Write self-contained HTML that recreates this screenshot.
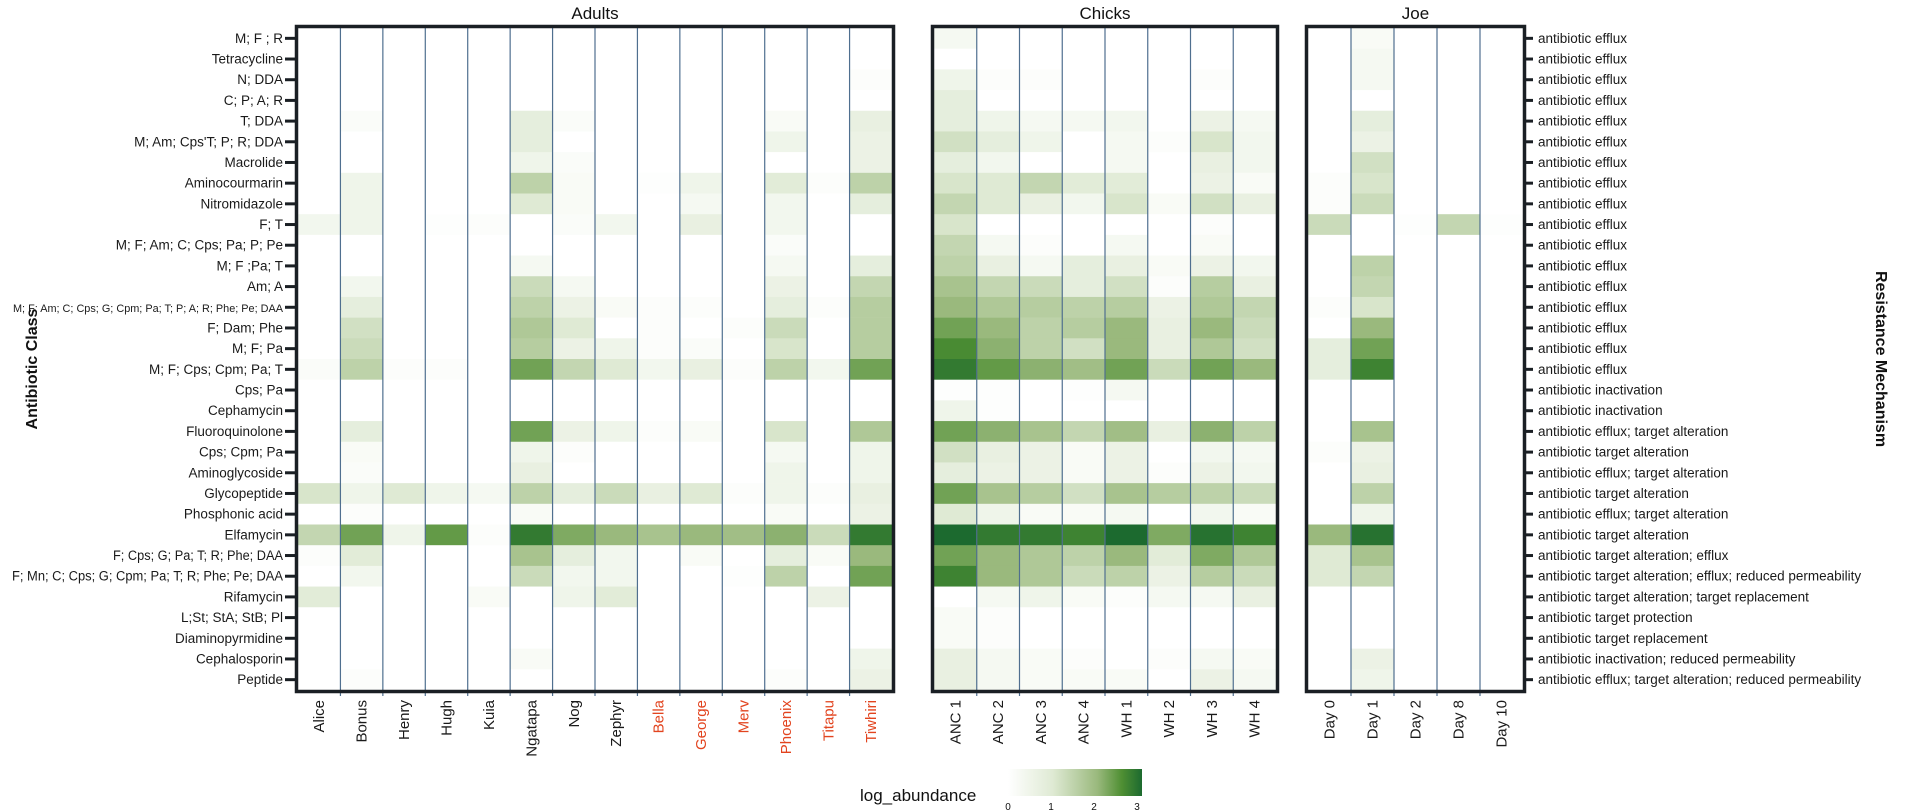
<!DOCTYPE html>
<html><head><meta charset="utf-8"><style>
html,body{margin:0;padding:0;background:#fff;width:1908px;height:812px;overflow:hidden}
svg{display:block;font-family:"Liberation Sans",Arial,sans-serif}
</style></head><body>
<svg id="chart" width="1908" height="812" viewBox="0 0 1908 812" xmlns="http://www.w3.org/2000/svg">
<defs><linearGradient id="lg" x1="0" x2="1" y1="0" y2="0">
<stop offset="0" stop-color="#ffffff"/><stop offset="0.333" stop-color="#dfead4"/><stop offset="0.667" stop-color="#9ab97d"/><stop offset="0.85" stop-color="#4f8f33"/><stop offset="1" stop-color="#1c6a2f"/></linearGradient></defs>
<g id="cells"></g><g id="lines"></g><g id="frames"></g><g id="labels"></g>
<text x="0" y="0" transform="translate(37,369) rotate(-90)" text-anchor="middle" font-size="16" font-weight="bold" fill="#111">Antibiotic Class</text>
<text x="0" y="0" transform="translate(1876,359) rotate(90)" text-anchor="middle" font-size="16" font-weight="bold" fill="#111">Resistance Mechanism</text>
<g>
<text x="860" y="801" font-size="17" fill="#111">log_abundance</text>
<rect x="1008" y="769" width="134" height="27" fill="url(#lg)"/>
<g font-size="10" fill="#111" text-anchor="middle">
<text x="1008" y="810">0</text>
<text x="1051" y="810">1</text>
<text x="1094" y="810">2</text>
<text x="1137" y="810">3</text>
</g></g>
</svg>
<script>
const rowLabels=["M; F ; R","Tetracycline","N; DDA","C; P; A; R","T; DDA","M; Am; Cps'T; P; R; DDA","Macrolide","Aminocourmarin","Nitromidazole","F; T","M; F; Am; C; Cps; Pa; P; Pe","M; F ;Pa; T","Am; A","M; F; Am; C; Cps; G; Cpm; Pa; T; P; A; R; Phe; Pe; DAA","F; Dam; Phe","M; F; Pa","M; F; Cps; Cpm; Pa; T","Cps; Pa","Cephamycin","Fluoroquinolone","Cps; Cpm; Pa","Aminoglycoside","Glycopeptide","Phosphonic acid","Elfamycin","F; Cps; G; Pa; T; R; Phe; DAA","F; Mn; C; Cps; G; Cpm; Pa; T; R; Phe; Pe; DAA","Rifamycin","L;St; StA; StB; Pl","Diaminopyrmidine","Cephalosporin","Peptide"];
const mechLabels=["antibiotic efflux","antibiotic efflux","antibiotic efflux","antibiotic efflux","antibiotic efflux","antibiotic efflux","antibiotic efflux","antibiotic efflux","antibiotic efflux","antibiotic efflux","antibiotic efflux","antibiotic efflux","antibiotic efflux","antibiotic efflux","antibiotic efflux","antibiotic efflux","antibiotic efflux","antibiotic inactivation","antibiotic inactivation","antibiotic efflux; target alteration","antibiotic target alteration","antibiotic efflux; target alteration","antibiotic target alteration","antibiotic efflux; target alteration","antibiotic target alteration","antibiotic target alteration; efflux","antibiotic target alteration; efflux; reduced permeability","antibiotic target alteration; target replacement","antibiotic target protection","antibiotic target replacement","antibiotic inactivation; reduced permeability","antibiotic efflux; target alteration; reduced permeability"];
const adultNames=["Alice","Bonus","Henry","Hugh","Kuia","Ngatapa","Nog","Zephyr","Bella","George","Merv","Phoenix","Titapu","Tiwhiri"];
const adultRed=[false,false,false,false,false,false,false,false,true,true,true,true,true,true];
const chickNames=["ANC 1","ANC 2","ANC 3","ANC 4","WH 1","WH 2","WH 3","WH 4"];
const joeNames=["Day 0","Day 1","Day 2","Day 8","Day 10"];
const adultValues=[
[0,0,0,0,0,0,0,0,0,.4,0,0,0,0,0,0,.15,0,0,0,0,0,1.1,0,1.4,.1,0,.9,0,0,0,0],
[0,0,0,0,.15,0,0,.5,.5,.5,0,0,.4,.8,1.2,1.3,1.5,0,0,.8,.2,.15,.5,.1,2.3,.9,.4,0,0,0,0,.1],
[0,0,0,0,0,0,0,0,0,0,0,0,0,0,0,0,.1,0,0,0,0,0,1.0,0,.5,0,0,0,0,0,0,0],
[0,0,0,0,0,0,0,0,0,.05,0,0,0,0,0,0,.1,0,0,0,0,0,.5,0,2.4,0,0,0,0,0,0,0],
[0,0,0,0,0,0,0,0,0,.1,0,0,0,0,0,0,0,0,0,0,0,0,.3,0,.1,0,0,.2,0,0,0,0],
[0,0,0,0,.8,.8,.5,1.5,1.0,0,0,.3,1.3,1.5,1.7,1.6,2.3,0,0,2.3,.5,.7,1.5,.2,2.8,1.8,1.3,0,0,0,.2,0],
[0,0,0,0,.15,0,.15,.2,.2,.15,0,0,.3,.6,1.0,.6,1.4,0,0,.6,.1,0,.8,0,2.2,.8,.4,.5,0,0,0,0],
[0,0,0,0,0,0,0,0,0,.4,0,0,0,.2,0,.5,1.0,0,0,.5,0,0,1.3,0,2.0,.4,.4,.9,0,0,0,0],
[0,0,0,0,0,0,0,.05,0,0,0,0,0,.1,.1,.1,.4,0,0,.1,0,0,.7,0,1.8,0,0,0,0,0,0,0],
[0,0,0,0,0,0,0,.5,.3,.7,0,0,0,.1,0,.15,.7,0,0,.2,0,0,1.0,0,2.0,.2,0,0,0,0,0,0],
[0,0,0,0,0,0,0,0,0,0,0,0,0,0,.1,0,.1,0,0,0,0,0,.1,0,1.9,0,.05,0,0,0,0,0],
[0,0,0,0,.2,.5,0,.9,.4,.4,.15,.3,.6,.8,1.3,1.1,1.5,0,0,1.1,.3,.5,.5,.2,2.1,.8,1.5,0,0,0,0,.1],
[0,0,0,0,0,0,0,.1,0,0,0,0,0,.1,0,0,.4,0,0,0,0,0,.1,0,1.3,.2,0,.6,0,0,0,0],
[0,0,.1,0,.7,.6,.6,1.5,.8,0,0,.8,1.4,1.6,1.6,1.6,2.3,0,0,1.7,.5,.5,.7,.6,2.8,2.0,2.3,0,0,0,.5,.6]];
const chickValues=[
[.3,0,.5,.8,.8,1.2,.8,1.1,1.4,1.1,1.4,1.5,1.8,2.0,2.3,2.6,2.8,.05,.5,2.3,1.2,.8,2.3,1.0,3.0,2.3,2.7,0,.2,.2,.7,.7],
[0,0,.1,0,.5,.8,.4,1.0,1.0,0,.3,.7,1.4,1.7,2.0,2.1,2.4,.05,.05,2.1,.7,.6,1.8,.5,2.8,2.0,2.0,.3,.1,.1,.3,.3],
[0,0,.1,0,.3,.5,0,1.4,.7,0,.1,.3,1.3,1.6,1.5,1.5,2.1,0,0,1.8,.6,.6,1.6,.2,2.8,1.7,1.7,.5,0,0,.2,.2],
[0,0,0,0,.3,0,0,.9,.4,0,0,.8,.8,1.5,1.6,1.2,1.9,.05,0,1.4,.2,.2,1.2,.2,2.7,1.5,1.3,.2,0,0,.1,.2],
[0,0,0,0,.4,.3,.3,.9,1.1,0,.3,.7,1.2,1.6,2.0,2.0,2.3,.3,0,1.9,.6,.6,1.8,.3,3.0,2.0,1.5,.1,0,0,0,.2],
[0,0,0,0,0,.1,0,0,.2,0,0,.2,.1,.6,.7,.7,1.3,0,0,.7,0,.1,1.6,0,2.2,.9,.6,.3,0,0,.1,0],
[0,0,.1,0,.6,1.1,.7,.6,1.2,.1,.2,.6,1.6,1.7,2.0,1.7,2.3,0,0,2.1,.4,.6,1.5,.4,2.9,2.2,1.6,.3,0,0,.3,.6],
[0,0,0,0,.3,.4,.4,.2,.7,0,0,.4,.7,1.4,1.3,1.2,2.0,0,0,1.5,.3,.4,1.3,.2,2.7,1.7,1.3,.7,0,0,.2,.3]];
const joeValues=[
[0,0,0,0,0,0,0,.1,.1,1.3,0,0,0,.1,0,.8,.8,0,0,0,.1,0,0,0,2.0,1.0,1.0,0,0,0,0,0],
[.2,.3,.3,0,.8,.6,1.2,1.1,1.3,0,0,1.5,1.4,1.1,2.0,2.3,2.7,0,0,1.8,.6,.7,1.5,.5,2.9,1.8,1.4,0,0,0,.6,.5],
[0,0,0,0,0,0,0,0,0,.05,0,0,0,0,0,0,0,0,0,0,0,0,0,0,0,0,0,0,0,0,0,0],
[0,0,0,0,0,0,0,0,0,1.4,0,0,0,0,0,0,0,0,0,0,0,0,0,0,0,0,0,0,0,0,0,0],
[0,0,0,0,0,0,0,0,0,.05,0,0,0,0,0,0,0,0,0,0,0,0,0,0,0,0,0,0,0,0,0,0]];

const NS="http://www.w3.org/2000/svg";
const TOP=28, BOT=690, RH=(BOT-TOP)/rowLabels.length;
const panels=[
 {name:"adults",title:"Adults",x0:298,x1:892,cols:adultNames,vals:adultValues,red:adultRed},
 {name:"chicks",title:"Chicks",x0:934,x1:1276,cols:chickNames,vals:chickValues,red:null},
 {name:"joe",title:"Joe",x0:1308,x1:1523,cols:joeNames,vals:joeValues,red:null}];
const stops=[[0,[255,255,255]],[1,[223,234,212]],[2,[154,185,125]],[2.55,[79,143,51]],[3,[28,106,47]]];
function color(v){v=Math.max(0,Math.min(3,v));for(let i=1;i<stops.length;i++){if(v<=stops[i][0]){const a=stops[i-1],b=stops[i];const t=(v-a[0])/(b[0]-a[0]);const c=a[1].map((x,k)=>Math.round(x+(b[1][k]-x)*t));return `rgb(${c[0]},${c[1]},${c[2]})`;}}return "rgb(28,106,47)";}
function yScale(i){return TOP+i*RH;}
function mk(tag,attrs,parent,text){const e=document.createElementNS(NS,tag);for(const k in attrs)e.setAttribute(k,attrs[k]);if(text!==undefined)e.textContent=text;parent.appendChild(e);return e;}
const gC=document.getElementById('cells'),gL=document.getElementById('lines'),gF=document.getElementById('frames'),gT=document.getElementById('labels');
panels.forEach(p=>{
 const cw=(p.x1-p.x0)/p.cols.length;
 const xScale=j=>p.x0+j*cw;
 p.vals.forEach((col,j)=>{col.forEach((v,i)=>{
  const r=mk('rect',{x:xScale(j).toFixed(2),y:yScale(i).toFixed(2),width:(cw+0.3).toFixed(2),height:(RH+0.3).toFixed(2),fill:color(v)},gC);
  
  
 });});
 for(let j=1;j<p.cols.length;j++){
  const l=mk('line',{x1:xScale(j),x2:xScale(j),y1:TOP,y2:BOT+6,stroke:'#4f6f8f','stroke-width':1.2},gL);
  
  
 }
 const f=mk('rect',{x:p.x0-1.5,y:TOP-1.5,width:p.x1-p.x0+3,height:BOT-TOP+3,fill:'none',stroke:'#1a1f24','stroke-width':3.5},gF);
 
 
 const t=mk('text',{x:(p.x0+p.x1)/2,y:19,'text-anchor':'middle','font-size':17,fill:'#111'},gT,p.title);
 
 
 p.cols.forEach((c,j)=>{
  const cx=xScale(j)+cw/2+5;
  const tx=mk('text',{x:0,y:0,transform:`translate(${cx.toFixed(1)},700) rotate(-90)`,'text-anchor':'end','font-size':15,fill:(p.red&&p.red[j])?'#e2441f':'#1a1a1a'},gT,c);
  
  
 });
});
const longFit={13:270,25:170,26:271};
rowLabels.forEach((lab,i)=>{
 const cy=yScale(i)+RH/2;
 const attrs={x:283,y:(cy+4.5).toFixed(1),'text-anchor':'end','font-size':(i===13?11:13.5),fill:'#1a1a1a'};
 if(longFit[i]){attrs.textLength=longFit[i];attrs.lengthAdjust='spacingAndGlyphs';}
 const t=mk('text',attrs,gT,lab);
 
 
 const tk=mk('line',{x1:285,x2:296,y1:cy,y2:cy,stroke:'#1a1f24','stroke-width':3},gT);
 
 
 const m=mk('text',{x:1538,y:(cy+4.5).toFixed(1),'font-size':13.5,fill:'#1a1a1a'},gT,mechLabels[i]);
 
 
 const tk2=mk('line',{x1:1525,x2:1533,y1:cy,y2:cy,stroke:'#1a1f24','stroke-width':3},gT);
 
 
});
</script>
</body></html>
